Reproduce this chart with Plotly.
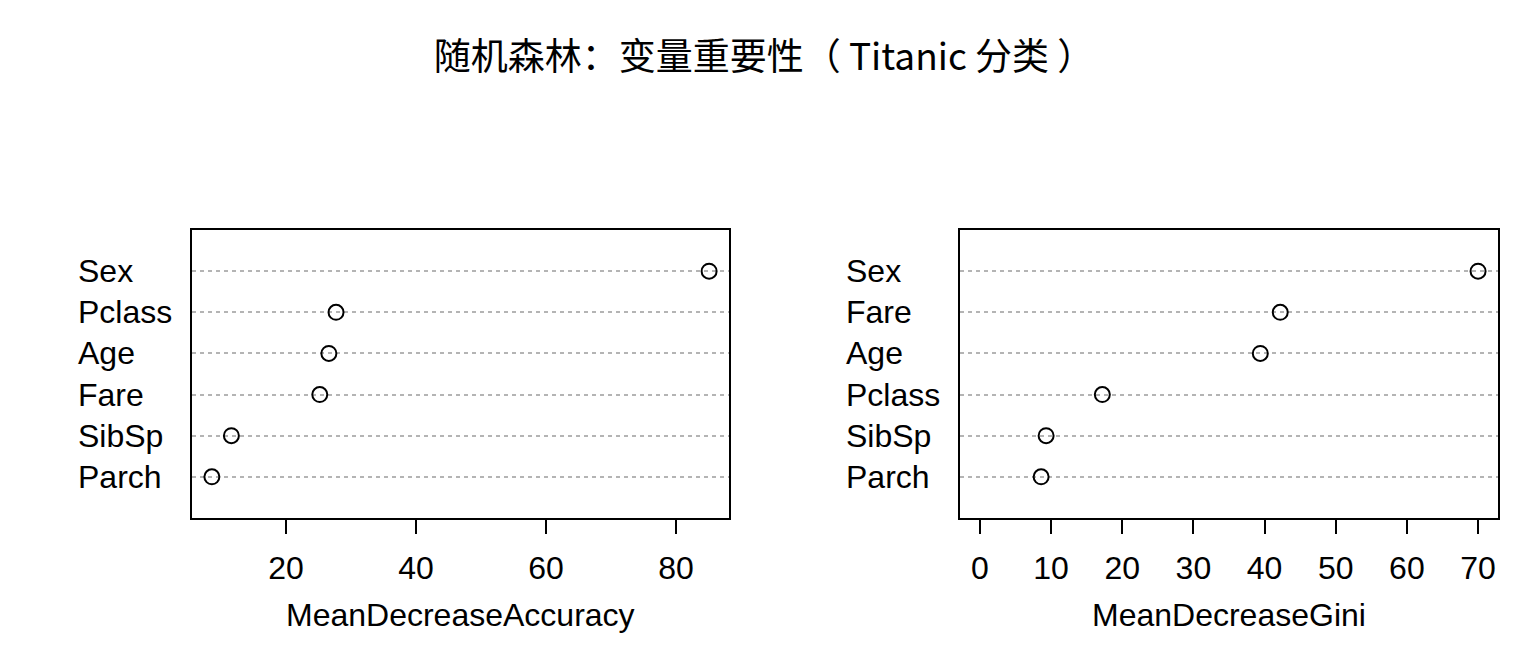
import plotly.graph_objects as go

# Left panel: MeanDecreaseAccuracy (bottom -> top)
acc_vars = ["Parch", "SibSp", "Fare", "Age", "Pclass", "Sex"]
acc_vals = [8.6, 11.6, 25.2, 26.6, 27.7, 85.1]

# Right panel: MeanDecreaseGini (bottom -> top)
gini_vars = ["Parch", "SibSp", "Pclass", "Age", "Fare", "Sex"]
gini_vals = [8.6, 9.3, 17.2, 39.4, 42.2, 70.0]

acc_ticks = [20, 40, 60, 80]
gini_ticks = [0, 10, 20, 30, 40, 50, 60, 70]

title_text = "随机森林：变量重要性（ Titanic 分类 ）"

OFF = 8  # page body margin
W, H = 1536 - OFF, 672 - OFF
FONT = "Liberation Sans, Arial, sans-serif"
FS = 32

def px(x):
    return (x - OFF) / W

def py(y):
    return 1 - (y - OFF) / H

fig = go.Figure()
ypos_acc = list(range(1, len(acc_vars) + 1))
ypos_gini = list(range(1, len(gini_vars) + 1))

marker = dict(symbol="circle-open", size=15, color="black", line=dict(width=2, color="black"))
fig.add_trace(go.Scatter(x=acc_vals, y=ypos_acc, mode="markers", marker=marker,
                         xaxis="x", yaxis="y", showlegend=False))
fig.add_trace(go.Scatter(x=gini_vals, y=ypos_gini, mode="markers", marker=marker,
                         xaxis="x2", yaxis="y2", showlegend=False))

def pad(lo, hi):
    r = hi - lo
    return [lo - 0.04 * r, hi + 0.04 * r]

acc_range = pad(min(acc_vals), max(acc_vals))
gini_range = pad(0, max(gini_vals))

ydom = [py(518), py(230)]
xdom1 = [px(192), px(729)]
xdom2 = [px(960), px(1498)]

xcommon = dict(showline=True, linecolor="black", linewidth=1.5, mirror=True,
               ticks="outside", ticklen=14, tickwidth=1.5, tickcolor="black",
               ticklabelstandoff=7,
               showgrid=False, zeroline=False,
               tickfont=dict(family=FONT, size=FS, color="black"))
ycommon = dict(showline=True, linecolor="black", linewidth=1.5, mirror=True,
               range=[0, 7], showticklabels=False, ticks="",
               showgrid=True, gridcolor="#b4b4b4", gridwidth=1.5, griddash="4px,4px",
               zeroline=False, domain=ydom)

fig.update_layout(
    width=W, height=H,
    margin=dict(l=0, r=0, t=0, b=0),
    paper_bgcolor="white", plot_bgcolor="white",
    xaxis=dict(domain=xdom1, range=acc_range, tickvals=acc_ticks, anchor="y", **xcommon),
    yaxis=dict(anchor="x", tickvals=ypos_acc, **ycommon),
    xaxis2=dict(domain=xdom2, range=gini_range, tickvals=gini_ticks, anchor="y2", **xcommon),
    yaxis2=dict(anchor="x2", tickvals=ypos_gini, **ycommon),
    title=dict(text=title_text, x=px(764), xanchor="center", y=py(57), yanchor="middle",
               font=dict(family="Noto Sans CJK SC", size=37, color="black", weight="normal")),
)

ann = []
for v, yp in zip(acc_vars, ypos_acc):
    ann.append(dict(text=v, x=px(76), xref="paper", y=yp, yref="y", xanchor="left",
                    yanchor="middle", showarrow=False, font=dict(family=FONT, size=FS, color="black")))
for v, yp in zip(gini_vars, ypos_gini):
    ann.append(dict(text=v, x=px(844), xref="paper", y=yp, yref="y2", xanchor="left",
                    yanchor="middle", showarrow=False, font=dict(family=FONT, size=FS, color="black")))
ann.append(dict(text="MeanDecreaseAccuracy", x=sum(xdom1) / 2, xref="paper", y=py(615), yref="paper",
                xanchor="center", yanchor="middle", showarrow=False, font=dict(family=FONT, size=FS, color="black")))
ann.append(dict(text="MeanDecreaseGini", x=sum(xdom2) / 2, xref="paper", y=py(615), yref="paper",
                xanchor="center", yanchor="middle", showarrow=False, font=dict(family=FONT, size=FS, color="black")))
fig.update_layout(annotations=ann)

fig.write_html("out.html")
